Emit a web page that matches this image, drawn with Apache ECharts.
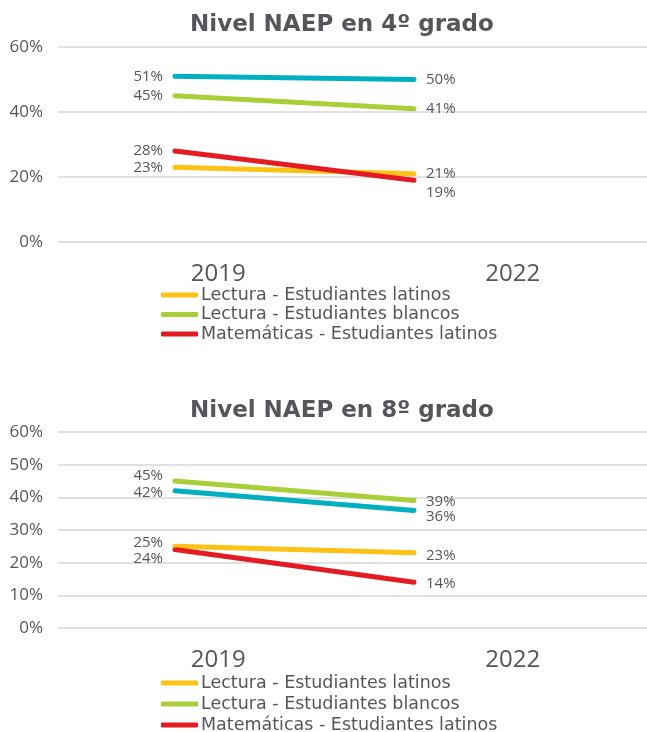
<!DOCTYPE html>
<html>
<head>
<meta charset="utf-8">
<script src="https://cdn.jsdelivr.net/npm/echarts@6/dist/echarts.min.js"></script>
<style>
html,body{margin:0;padding:0;background:#fff;}
#chart{width:647px;height:732px;}
</style>
</head>
<body>
<div id="chart"></div>
<script>
// ---- data ----
var years = ['2019', '2022'];
var seriesNames = [
  'Lectura - Estudiantes latinos',
  'Lectura - Estudiantes blancos',
  'Matemáticas - Estudiantes blancos',
  'Matemáticas - Estudiantes latinos'
];
var legendNames = [
  'Lectura - Estudiantes latinos',
  'Lectura - Estudiantes blancos',
  'Matemáticas - Estudiantes latinos'
];
var title4 = 'Nivel NAEP en 4º grado';
var title8 = 'Nivel NAEP en 8º grado';
// grade 4
var lecturaLatinos4 = [23, 21];
var lecturaBlancos4 = [45, 41];
var mateBlancos4 = [51, 50];
var mateLatinos4 = [28, 19];
// grade 8
var lecturaLatinos8 = [25, 23];
var lecturaBlancos8 = [45, 39];
var mateBlancos8 = [42, 36];
var mateLatinos8 = [24, 14];
var yTicks4 = [0, 20, 40, 60];
var yTicks8 = [0, 10, 20, 30, 40, 50, 60];

// ---- styles ----
var FONT = 'Open Sans';
var WIDE = 'DejaVu Sans';
var TXT = '#55565a';
var colors = ['#fdc216', '#a8cf38', '#00afc0', '#e31b23'];
// vertical nudges for value labels (style only)
var nudge4 = [[0, 0], [0, 0], [0, 0], [0, 12]];
var nudge8 = [[-4, 3], [-5, 1], [2, 6], [9, 1]];

function buildSeries(valuesList, xIdx, nudges) {
  return valuesList.map(function (vals, si) {
    return {
      name: seriesNames[si],
      type: 'line',
      xAxisIndex: xIdx,
      yAxisIndex: xIdx,
      symbol: 'circle',
      symbolSize: 4,
      showSymbol: true,
      itemStyle: { color: colors[si] },
      lineStyle: { color: colors[si], width: 5, cap: 'round' },
      emphasis: { disabled: true },
      silent: true,
      label: {
        show: true,
        fontFamily: FONT,
        fontSize: 15,
        color: TXT,
        distance: 10,
        formatter: '{c}%'
      },
      data: vals.map(function (v, i) {
        return {
          value: v,
          label: {
            position: i === 0 ? 'left' : 'right',
            offset: [0, nudges[si][i]]
          }
        };
      })
    };
  });
}

function axesFor(gridIdx, ticks) {
  var interval = ticks[1] - ticks[0];
  return {
    x: [
      {
        type: 'category', gridIndex: gridIdx, data: years, boundaryGap: true,
        axisLine: { show: false }, axisTick: { show: false },
        axisLabel: { fontFamily: FONT, fontSize: 24, color: TXT, margin: 20, padding: [0, 0, 0, 26] }
      },
      {
        type: 'category', gridIndex: gridIdx + 1, data: years, boundaryGap: false, show: false
      }
    ],
    y: [
      {
        type: 'value', gridIndex: gridIdx, min: ticks[0], max: ticks[ticks.length - 1], interval: interval,
        axisLine: { show: false }, axisTick: { show: false },
        axisLabel: { fontFamily: FONT, fontSize: 17, color: TXT, margin: 15, formatter: '{value}%' },
        splitLine: { lineStyle: { color: '#e1e1e1', width: 2 } }
      },
      {
        type: 'value', gridIndex: gridIdx + 1, min: ticks[0], max: ticks[ticks.length - 1], show: false
      }
    ]
  };
}

var a4 = axesFor(0, yTicks4);
var a8 = axesFor(2, yTicks8);

var s4 = buildSeries([lecturaLatinos4, lecturaBlancos4, mateBlancos4, mateLatinos4], 1, nudge4);
var s8 = buildSeries([lecturaLatinos8, lecturaBlancos8, mateBlancos8, mateLatinos8], 3, nudge8);

var legendCommon = {
  orient: 'vertical',
  left: 161,
  width: 400,
  height: 90,
  itemWidth: 37,
  itemHeight: 5,
  icon: 'roundRect',
  padding: 0,
  selectedMode: false,
  textStyle: { fontFamily: WIDE, fontSize: 17.5, color: TXT, padding: [0, 0, 0, -2] },
  data: legendNames
};

var titleStyle = { fontFamily: WIDE, fontWeight: 'bold', fontSize: 23, color: TXT };

var option = {
  backgroundColor: '#fff',
  animation: false,
  title: [
    { text: title4, left: 190, top: 14, padding: 0, textStyle: titleStyle },
    { text: title8, left: 190, top: 400, padding: 0, textStyle: titleStyle }
  ],
  legend: [
    Object.assign({}, legendCommon, { top: 286, itemGap: 1.5 }),
    Object.assign({}, legendCommon, { top: 674, itemGap: 3 })
  ],
  grid: [
    { left: 58, right: 0, top: 47, height: 195 },
    { left: 175, width: 239, top: 47, height: 195 },
    { left: 58, right: 0, top: 432, height: 196 },
    { left: 175, width: 239, top: 432, height: 196 }
  ],
  xAxis: a4.x.concat(a8.x),
  yAxis: a4.y.concat(a8.y),
  series: s4.concat(s8)
};

var chart = echarts.init(document.getElementById('chart'));
chart.setOption(option);
</script>
</body>
</html>
